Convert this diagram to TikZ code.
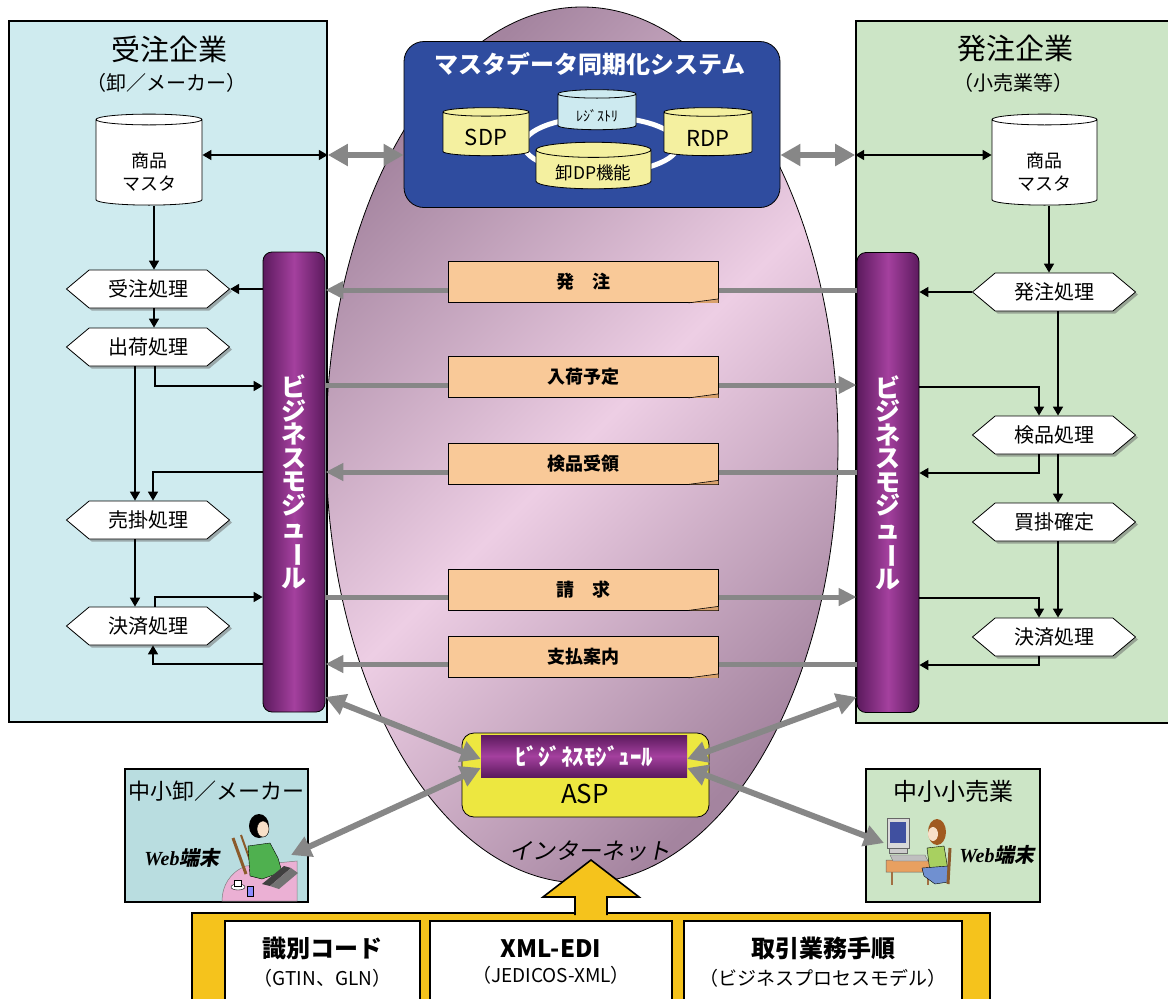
\documentclass[tikz,border=0pt]{standalone}
\usepackage{fontspec}
\setmainfont{Noto Sans CJK JP}
\newfontfamily\slantfont[FakeSlant=0.2]{Noto Sans CJK JP}
\newfontfamily\webfont{Liberation Serif}
\usepackage{graphicx}
\usetikzlibrary{arrows.meta}
\usetikzlibrary{positioning}
\usetikzlibrary{shapes.geometric,shapes.symbols}
\usetikzlibrary{shadows}

\newcommand{\fsz}[1]{\fontsize{#1}{#1}\selectfont}
\newcommand{\bizmod}{ビ\\ジ\\ネ\\ス\\モ\\ジ\\ュ\\\rotatebox[origin=c]{-90}{ー}\\ル}
% taller first line pushes the label down into the cylinder body
\newcommand{\dbtop}[1]{\rule{0pt}{#1}}

\definecolor{ordfill}{HTML}{CFEBEF}
\definecolor{purfill}{HTML}{CCE5C6}
\definecolor{smallordfill}{HTML}{B9DDE0}
\definecolor{sysblue}{HTML}{2F4C9F}
\definecolor{dbyellow}{HTML}{F4F0A0}
\definecolor{dbcyan}{HTML}{CDEAF0}
\definecolor{docfill}{HTML}{F9C998}
\definecolor{docfold}{HTML}{D9A26E}
\definecolor{aspyellow}{HTML}{EDE740}
\definecolor{baryellow}{HTML}{F5C31C}
\definecolor{arrgray}{HTML}{878787}
\definecolor{moddark}{HTML}{5C1A5E}
\definecolor{modmid}{HTML}{A4409E}
\definecolor{netdark}{HTML}{A4849F}
\definecolor{netlight}{HTML}{EDCEE4}
\definecolor{tablepink}{HTML}{EBB0D4}
\definecolor{chairbrown}{HTML}{8B5A2B}
\definecolor{skin}{HTML}{F8E0C8}
\definecolor{shirtgreen}{HTML}{4FB04F}
\definecolor{shirtlime}{HTML}{A8D060}
\definecolor{pantsblue}{HTML}{7090D0}
\definecolor{hairbrown}{HTML}{A05A20}
\definecolor{screenblue}{HTML}{4050A0}
\definecolor{deskorange}{HTML}{E8A060}

\pgfkeys{tikz/panel/.style={draw,line width=1.6pt,rectangle,inner sep=0pt}}
\pgfkeys{tikz/dbcyl/.style={cylinder,shape border rotate=90,aspect=0.2,draw,line width=0.8pt,align=center,inner sep=0pt}}
\pgfkeys{tikz/hexbox/.style={signal,signal to=west and east,signal pointer angle=80,draw,fill=white,line width=0.8pt,
    minimum width=163,minimum height=38,inner sep=0pt,font=\fsz{20pt},
    drop shadow={shadow xshift=2.5pt,shadow yshift=-2.5pt,fill=black!60}}}
\pgfkeys{tikz/modbar/.style={draw,line width=0.8pt,rounded corners=9pt,left color=moddark,right color=moddark,middle color=modmid,
    minimum width=62,minimum height=460,text=white,align=center,inner sep=0pt,font=\fontsize{25pt}{23.5pt}\selectfont\bfseries}}
\pgfkeys{tikz/flow/.style={line width=1.6pt,-{Triangle[length=9pt,width=10pt]}}}
\pgfkeys{tikz/flowboth/.style={line width=1.6pt,{Triangle[length=9pt,width=10pt]}-{Triangle[length=9pt,width=10pt]}}}
\pgfkeys{tikz/msg/.style={line width=5pt,arrgray,-{Triangle[length=18pt,width=17pt]}}}
\pgfkeys{tikz/link/.style={line width=6pt,arrgray,{Triangle[length=20pt,width=21pt]}-{Triangle[length=20pt,width=21pt]}}}
\pgfkeys{tikz/doc/.style={draw,line width=0.8pt,fill=docfill,minimum width=270,minimum height=41,inner sep=0pt,font=\fsz{18pt}\bfseries}}
\pgfkeys{tikz/stdbox/.style={draw,line width=1.6pt,fill=white,minimum height=82,inner sep=0pt,align=center}}

\begin{document}
\begin{tikzpicture}[x=1pt,y=-1pt]
  \useasboundingbox (0,0) rectangle (1168,999);
  \node[ellipse,draw,line width=0.8pt,minimum width=512,minimum height=876,
    top color=netdark,bottom color=netdark,middle color=netlight,shading angle=45] (net) at (582,445) {};

  % trading companies
  \node[panel,fill=ordfill,minimum width=318,minimum height=701] (ordpanel) at (168,371.5) {};
  \node[panel,fill=purfill,minimum width=316,minimum height=702] (purpanel) at (1014,372) {};
  \node[font=\fsz{29pt}] (ordttl) at (169,49) {受注企業};
  \node[font=\fsz{20pt}] (ordsub) at (166,83) {（卸／メーカー）};
  \node[font=\fsz{29pt}] (purttl) at (1015,49) {発注企業};
  \node[font=\fsz{20pt}] (pursub) at (1013,83) {（小売業等）};

  % master data sync
  \node[draw,line width=0.8pt,fill=sysblue,rounded corners=20pt,minimum width=376,minimum height=166] (sys) at (592,124.5) {};
  \node[font=\fsz{24pt}\bfseries,text=white] (systtl) at (590,64) {マスタデータ同期化システム};
  \draw[white,line width=5pt] (601,145) ellipse [x radius=77,y radius=28];
  \node[dbcyl,fill=dbyellow,minimum width=86,minimum height=48,font=\fsz{22pt}] (sdp) at (486,134) {\dbtop{24pt}SDP};
  \node[dbcyl,fill=dbyellow,minimum width=88,minimum height=48,font=\fsz{22pt}] (rdp) at (708,134) {\dbtop{24pt}RDP};
  \node[dbcyl,fill=dbcyan,minimum width=78,minimum height=40,font=\fsz{14pt}] (reg) at (597,112) {\dbtop{20pt}ﾚｼﾞｽﾄﾘ};
  \node[dbcyl,fill=dbyellow,minimum width=115,minimum height=45,font=\fsz{17.5pt}] (whdp) at (593.5,169.5) {\dbtop{22pt}卸DP機能};

  \node[dbcyl,fill=white,minimum width=106,minimum height=91,font=\fsz{18pt}] (ordmaster) at (149,162.5) {\dbtop{34pt}商品\\[5pt]マスタ};
  \node[dbcyl,fill=white,minimum width=105,minimum height=91,font=\fsz{18pt}] (purmaster) at (1044.5,162.5) {\dbtop{34pt}商品\\[5pt]マスタ};
  \draw[link] (ordpanel.east |- 0,155) -- (sys.west |- 0,155);
  \draw[link] (sys.east |- 0,155) -- (purpanel.west |- 0,155);
  \draw[flowboth] (ordmaster.east |- 0,155) -- (ordpanel.east |- 0,155);
  \draw[flowboth] (purpanel.west |- 0,155) -- (purmaster.west |- 0,155);

  % business modules
  \node[modbar] (ordmod) at (294,482) {\bizmod};
  \node[modbar] (purmod) at (888,482.5) {\bizmod};

  \node[hexbox] (ordrecv) at (148,289) {受注処理};
  \node[hexbox] (ordship) at (148,347) {出荷処理};
  \node[hexbox] (ordsales) at (148,520) {売掛処理};
  \node[hexbox] (ordsettle) at (148,626) {決済処理};
  \node[hexbox] (purorder) at (1054,292) {発注処理};
  \node[hexbox] (purinspect) at (1054,435) {検品処理};
  \node[hexbox] (purbuy) at (1054,522) {買掛確定};
  \node[hexbox] (pursettle) at (1054,637) {決済処理};

  \draw[flow] ([xshift=5pt]ordmaster.south) -- ([xshift=6pt]ordrecv.north);
  \draw[flow] (ordmod.west |- ordrecv) -- (ordrecv.east);
  \draw[flow] ([xshift=6pt]ordrecv.south) -- ([xshift=6pt]ordship.north);
  \draw[flow] ([xshift=7pt]ordship.south) |- (ordmod.west |- 0,386);
  \draw[flow] ([xshift=-13pt]ordship.south) -- ([xshift=-13pt]ordsales.north);
  \draw[flow] (ordmod.west |- 0,472) -| ([xshift=5pt]ordsales.north);
  \draw[flow] ([xshift=-13pt]ordsales.south) -- ([xshift=-13pt]ordsettle.north);
  \draw[flow] ([xshift=7pt]ordsettle.north) |- (ordmod.west |- 0,597);
  \draw[flow] (ordmod.west |- 0,664) -| ([xshift=5pt]ordsettle.south);

  \draw[flow] ([xshift=-5pt]purorder.north |- purmaster.south) -- ([xshift=-5pt]purorder.north);
  \draw[flow] (purorder.west) -- (purmod.east |- purorder);
  \draw[flow] ([xshift=4pt]purorder.south) -- ([xshift=4pt]purinspect.north);
  \draw[flow] (purmod.east |- 0,387) -| ([xshift=-15pt]purinspect.north);
  \draw[flow] ([xshift=-15pt]purinspect.south) |- (purmod.east |- 0,473);
  \draw[flow] ([xshift=4pt]purinspect.south) -- ([xshift=4pt]purbuy.north);
  \draw[flow] ([xshift=4pt]purbuy.south) -- ([xshift=4pt]pursettle.north);
  \draw[flow] (purmod.east |- 0,598) -| ([xshift=-15pt]pursettle.north);
  \draw[flow] ([xshift=-15pt]pursettle.south) |- (purmod.east |- 0,665);

  % messages
  \draw[msg] (purmod.west |- 0,290) -- (ordmod.east |- 0,290);
  \draw[msg] (ordmod.east |- 0,385) -- (purmod.west |- 0,385);
  \draw[msg] (purmod.west |- 0,472) -- (ordmod.east |- 0,472);
  \draw[msg] (ordmod.east |- 0,597) -- (purmod.west |- 0,597);
  \draw[msg] (purmod.west |- 0,664) -- (ordmod.east |- 0,664);
  \node[doc] (msg1) at (583,282) {発　注};
  \node[doc] (msg2) at (583,377) {入荷予定};
  \node[doc] (msg3) at (583,463.5) {検品受領};
  \node[doc] (msg4) at (583,589.5) {請　求};
  \node[doc] (msg5) at (583,657) {支払案内};
  \foreach \m in {msg1,msg2,msg3,msg4,msg5}{
    \fill[docfold] ([xshift=-30pt]\m.south east) -- (\m.south east) -- ([yshift=4pt]\m.south east) -- cycle;
    \draw[line width=0.6pt] ([xshift=-30pt]\m.south east) -- ([yshift=4pt]\m.south east);
  }

  % ASP
  \node[draw,line width=0.8pt,fill=aspyellow,rounded corners=12pt,minimum width=247,minimum height=84] (asp) at (585.5,775) {};
  \node[top color=moddark,bottom color=moddark,middle color=modmid,minimum width=206,minimum height=42,inner sep=0pt,
    text=white,font=\fsz{23pt}\bfseries] (aspmod) at (584,756) {ﾋﾞｼﾞﾈｽﾓｼﾞｭｰﾙ};
  \node[font=\fsz{26pt}] (asplbl) at (585,794) {ASP};

  % small companies
  \node[panel,fill=smallordfill,minimum width=183,minimum height=133] (smallord) at (216.5,835.5) {};
  \node[font=\fsz{22pt}] (smallordttl) at (216,791) {中小卸／メーカー};
  \node[font=\fsz{20pt}] (ordwebtxt) at (182,858) {{\webfont\bfseries\itshape Web}{\slantfont\bfseries 端末}};
  \node[panel,fill=purfill,minimum width=174,minimum height=133] (smallpur) at (953,835.5) {};
  \node[font=\fsz{24pt}] (smallpurttl) at (953,791) {中小小売業};
  \node[font=\fsz{20pt}] (purwebtxt) at (997,855) {{\webfont\bfseries\itshape Web}{\slantfont\bfseries 端末}};

  % worker with notebook
  \filldraw[fill=tablepink,draw=black!50,line width=0.5pt] (297,861) -- (246,866) .. controls (230,872) and (222,886) .. (222,901) -- (297,901) -- cycle;
  \draw[chairbrown,line width=3pt] (233,838) -- (246,874);
  \draw[chairbrown,line width=2pt] (241,835) -- (252,866);
  \fill[black] (259,826) ellipse [x radius=10,y radius=12];
  \filldraw[fill=skin,draw=black,line width=0.4pt] (263,829) ellipse [x radius=6,y radius=8];
  \filldraw[fill=shirtgreen,draw=black,line width=0.4pt] (248,846) -- (270,843) -- (278,858) -- (282,872) -- (262,879) -- (250,876) -- cycle;
  \fill[black!75] (262,884) -- (284,866) -- (291,868) -- (270,886) -- cycle;
  \fill[black!55] (270,886) -- (291,868) -- (298,873) -- (279,889) -- cycle;
  \filldraw[fill=white,draw=black,line width=0.4pt] (238,887) ellipse [x radius=7,y radius=3];
  \filldraw[fill=white,draw=black,line width=0.4pt] (234,880) rectangle (241,886);
  \filldraw[fill=blue!45,draw=black,line width=0.4pt] (247,886) rectangle (253,896);

  % worker at desktop
  \filldraw[fill=black!15,draw=black!60,line width=0.5pt] (887,818) rectangle (909,848);
  \fill[screenblue] (890,822) rectangle (906,843);
  \filldraw[fill=black!20,draw=black!60,line width=0.5pt] (889,848) rectangle (907,853);
  \filldraw[fill=deskorange,draw=black!60,line width=0.5pt] (886,860) -- (938,860) -- (932,872) -- (886,872) -- cycle;
  \filldraw[fill=black!25,draw=black!60,line width=0.4pt] (890,855) -- (925,855) -- (928,861) -- (893,861) -- cycle;
  \draw[deskorange!70!black,line width=2pt] (892,872) -- (892,885) (928,872) -- (928,885);
  \fill[hairbrown] (937,832) ellipse [x radius=9,y radius=13];
  \fill[skin] (933,834) ellipse [x radius=5,y radius=7];
  \filldraw[fill=shirtlime,draw=black,line width=0.4pt] (927,848) -- (944,846) -- (948,870) -- (930,872) -- cycle;
  \filldraw[fill=pantsblue,draw=black,line width=0.4pt] (922,868) -- (948,866) -- (948,882) -- (935,884) -- (924,876) -- cycle;
  \draw[chairbrown,line width=3pt] (950,848) -- (948,884);

  \coordinate (ordweb) at (291,855);
  \coordinate (purweb) at (884,843);
  \draw[link] (ordmod.east |- 0,697) -- ([yshift=-3pt]aspmod.west);
  \draw[link] (ordweb) -- ([yshift=-12pt]aspmod.west);
  \draw[link] (purmod.west |- 0,697) -- ([yshift=-3pt]aspmod.east);
  \draw[link] (purweb) -- ([yshift=-12pt]aspmod.east);

  \node[font=\slantfont\fsz{23pt}] (netlbl) at (590,851) {インターネット};

  % standards
  \node[draw,line width=1.6pt,fill=baryellow,minimum width=798,minimum height=100,inner sep=0pt] (stdbar) at (591,963) {};
  \node[stdbox,minimum width=195] (idcode) at (322.5,962) {{\fsz{24pt}\bfseries 識別コード}\\[8pt]{\fsz{19pt}（GTIN、GLN）}};
  \node[stdbox,minimum width=242] (xmledi) at (551,962) {{\fsz{24pt}\bfseries XML-EDI}\\[8pt]{\fsz{19pt}（JEDICOS-XML）}};
  \node[stdbox,minimum width=278] (bizproc) at (823,962) {{\fsz{24pt}\bfseries 取引業務手順}\\[8pt]{\fsz{19pt}（ビジネスプロセスモデル）}};
  \coordinate (nettip) at (591,860);
  \filldraw[fill=baryellow,line width=1.6pt] (575,915) -- (575,897) -- (543,897) -- (nettip) -- (639,897) -- (607,897) -- (607,915);
\end{tikzpicture}
\end{document}
